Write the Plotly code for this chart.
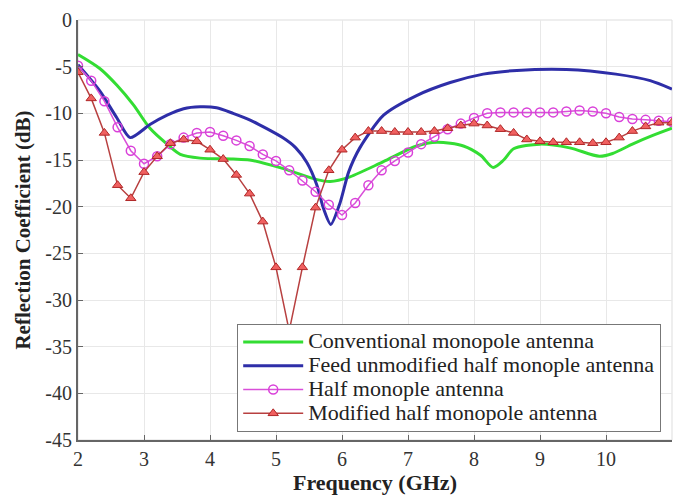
import plotly.graph_objects as go

# Conventional monopole antenna (green)
green_x = [2.0, 2.33, 2.59, 2.84, 3.09, 3.35, 3.55, 3.85, 4.35, 4.6, 5.1, 5.62, 5.82, 6.12, 6.62, 7.13, 7.44, 7.84, 8.1, 8.29, 8.45, 8.6, 9.0, 9.45, 9.9, 10.1, 10.4, 10.7, 11.0]
green_y = [-3.7, -5.2, -7.0, -9.1, -11.6, -13.3, -14.4, -14.8, -14.9, -15.0, -15.9, -17.1, -17.3, -16.8, -15.2, -13.5, -13.1, -13.5, -14.5, -15.8, -15.0, -13.8, -13.3, -13.7, -14.6, -14.3, -13.3, -12.4, -11.6]

# Feed unmodified half monople antenna (blue)
blue_x = [2.0, 2.33, 2.59, 2.79, 3.09, 3.35, 3.6, 3.85, 4.1, 4.35, 4.6, 5.1, 5.3, 5.47, 5.62, 5.72, 5.83, 5.97, 6.1, 6.27, 6.63, 7.13, 7.64, 8.14, 8.65, 9.4, 10.15, 10.67, 11.0]
blue_y = [-4.8, -7.6, -10.5, -12.6, -11.2, -10.2, -9.5, -9.3, -9.4, -10.0, -10.7, -12.6, -13.7, -15.3, -17.7, -20.2, -21.9, -19.6, -16.3, -13.7, -10.2, -8.1, -6.7, -5.8, -5.4, -5.3, -5.8, -6.5, -7.4]

# Sampled series (every 0.2 GHz)
freq = [round(2.0 + 0.2 * i, 1) for i in range(46)]
half_y = [-4.9, -6.5, -8.7, -11.5, -14.0, -15.4, -14.6, -13.3, -12.6, -12.1,
          -12.0, -12.4, -12.9, -13.5, -14.4, -15.1, -16.1, -17.2, -18.4, -19.8,
          -20.9, -19.6, -17.7, -16.1, -15.1, -14.2, -13.3, -12.5, -11.7, -11.1,
          -10.5, -10.0, -9.9, -9.9, -9.9, -9.9, -9.9, -9.8, -9.7, -9.8,
          -10.0, -10.4, -10.6, -10.7, -10.8, -10.9]
mod_y = [-5.6, -8.4, -12.1, -17.7, -19.1, -16.3, -14.6, -13.2, -12.8, -13.0,
         -13.9, -14.9, -16.6, -18.6, -21.6, -26.5, -33.3, -26.5, -20.1, -16.1,
         -13.9, -12.6, -11.9, -11.9, -12.0, -12.0, -12.0, -11.9, -11.6, -11.3,
         -11.1, -11.3, -11.7, -12.1, -12.8, -13.0, -13.1, -13.1, -13.1, -13.2,
         -13.1, -12.6, -11.9, -11.4, -11.0, -11.0]

names = ["Conventional monopole antenna", "Feed unmodified half monople antenna",
         "Half monople antenna", "Modified half monopole antenna"]

x_ticks = [2, 3, 4, 5, 6, 7, 8, 9, 10, 11]
y_ticks = [0, -5, -10, -15, -20, -25, -30, -35, -40, -45]

serif = "Times New Roman"


def lg(t):
    return '<span style="font-size:22px">' + t + '</span>'


fig = go.Figure()
fig.add_trace(go.Scatter(x=green_x, y=green_y, mode="lines", name=lg(names[0]),
                         line=dict(color="#33dd33", width=3, shape="spline", smoothing=0.8)))
fig.add_trace(go.Scatter(x=blue_x, y=blue_y, mode="lines", name=lg(names[1]),
                         line=dict(color="#2e2ea8", width=3, shape="spline", smoothing=0.7)))
fig.add_trace(go.Scatter(x=freq, y=half_y, mode="lines+markers", name=lg(names[2]),
                         line=dict(color="#d94fd9", width=1.5),
                         marker=dict(symbol="circle-open", size=9, color="#d940d9",
                                     line=dict(width=1.5, color="#d940d9"))))
fig.add_trace(go.Scatter(x=freq, y=mod_y, mode="lines+markers", name=lg(names[3]),
                         line=dict(color="#b84040", width=1.5),
                         marker=dict(symbol="triangle-up", size=9, color="#f06060",
                                     line=dict(width=1, color="#b02828"))))

fig.update_layout(
    width=681, height=497,
    margin=dict(l=78, r=9, t=13, b=57),
    paper_bgcolor="white", plot_bgcolor="white",
    font=dict(family=serif, size=20, color="#333333"),
    legend=dict(x=0.268, y=0.019, xanchor="left", yanchor="bottom",
                bgcolor="white", bordercolor="#777777", borderwidth=1,
                font=dict(family=serif, size=16, color="#222222"),
                itemwidth=60, tracegroupgap=0),
    shapes=[dict(type="rect", xref="paper", yref="paper", x0=0, x1=1, y0=0, y1=1,
                 line=dict(color="#dddddd", width=1), layer="below")],
)
fig.update_xaxes(range=[2, 11], tickvals=x_ticks, ticktext=[str(v) for v in x_ticks],
                 showgrid=True, gridcolor="#e8e8e8", gridwidth=1, zeroline=False,
                 showline=True, linecolor="#666666", linewidth=2,
                 ticks="inside", ticklen=5, tickcolor="#666666",
                 title=dict(text="<b>Frequency (GHz)</b>", font=dict(family=serif, size=22, color="#222222"), standoff=2))
fig.update_yaxes(range=[-45, 0], tickvals=y_ticks, ticktext=[str(v) for v in y_ticks],
                 showgrid=True, gridcolor="#e8e8e8", gridwidth=1, zeroline=False,
                 showline=True, linecolor="#666666", linewidth=2,
                 ticks="inside", ticklen=5, tickcolor="#666666",
                 title=dict(text="<b>Reflection Coefficient (dB)</b>", font=dict(family=serif, size=21, color="#222222"), standoff=9))

fig.write_html("out.html")
